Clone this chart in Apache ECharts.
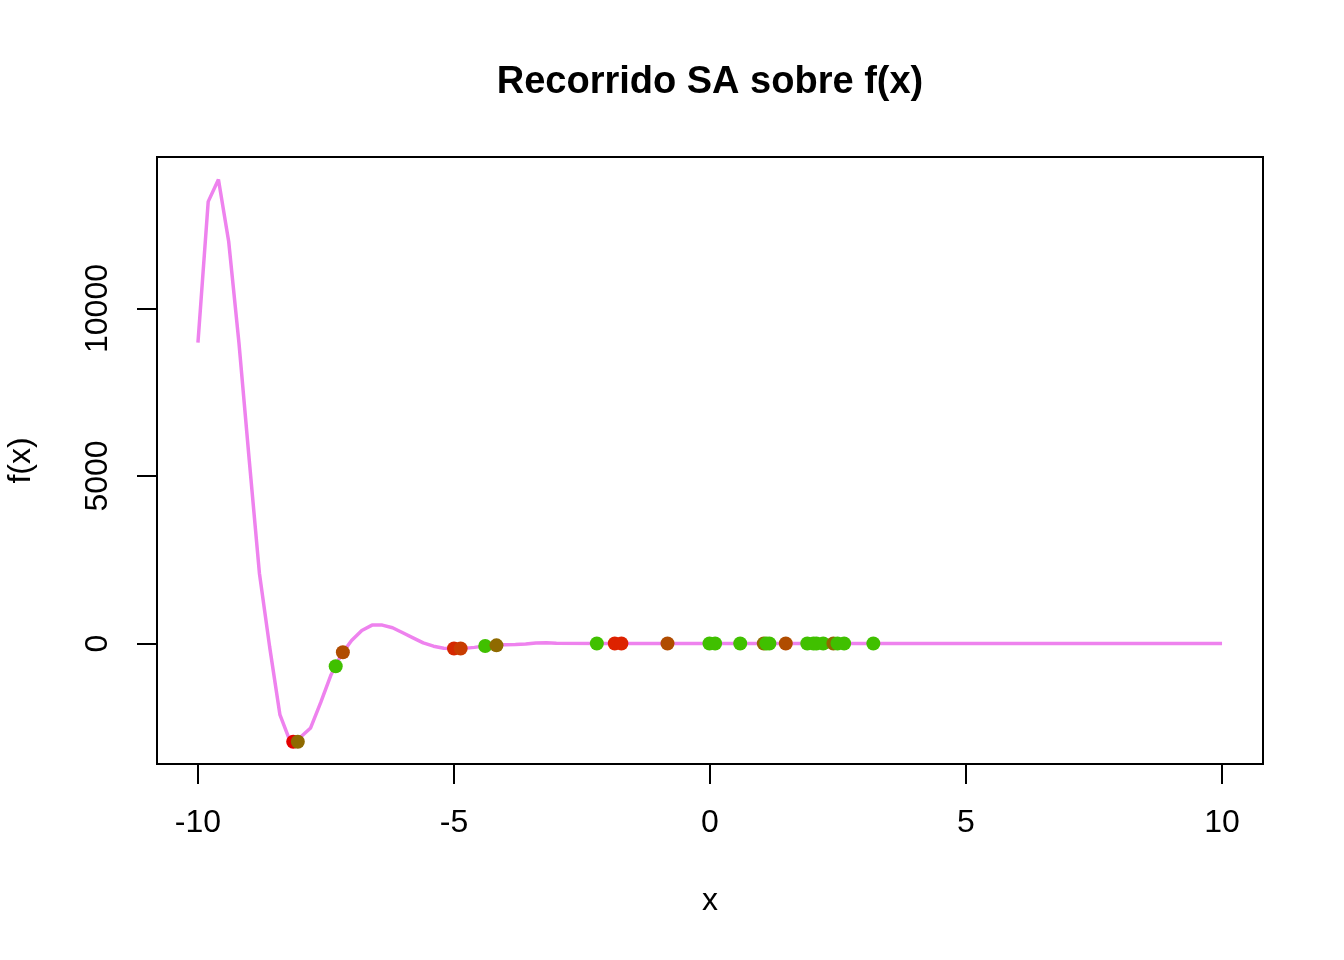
<!DOCTYPE html>
<html>
<head>
<meta charset="utf-8">
<script src="https://cdn.jsdelivr.net/npm/echarts@6/dist/echarts.min.js"></script>
<style>
html,body{margin:0;padding:0;background:#fff;}
#chart{width:1344px;height:960px;}
</style>
</head>
<body>
<div id="chart"></div>
<script>
// ---- data ----
const titleText = "Recorrido SA sobre f(x)";
const xName = "x";
const yName = "f(x)";
const xTicks = [-10, -5, 0, 5, 10];
const yTicks = [0, 5000, 10000];

// sampled curve f(x)
const curveX = [-10, -9.8, -9.6, -9.4, -9.2, -9.0, -8.8, -8.6, -8.4, -8.2, -8.0, -7.8, -7.6, -7.4, -7.2, -7.0,
  -6.8, -6.6, -6.4, -6.2, -6.0, -5.8, -5.6, -5.4, -5.2, -5.0, -4.8, -4.6, -4.4, -4.2, -4.0, -3.8, -3.6,
  -3.4, -3.2, -3.0, -2, -1, 0, 1, 2, 3, 4, 5, 6, 7, 8, 9, 10];
const curveY = [8980, 13190, 13850, 12000, 8980, 5500, 2100, -100, -2120, -2920, -2800, -2520, -1750, -930, -330, 90,
  390, 550, 550, 470, 320, 170, 20, -80, -140, -150, -145, -115, -70, -50, -40, -30, -15,
  15, 20, 5, 0, 0, 0, 0, 0, 0, 0, 0, 0, 0, 0, 0, 0];

// SA visited points
const pointX = [-8.14, -8.05, -7.31, -7.17, -5.00, -4.87, -4.39, -4.17, -2.21, -1.86, -1.73, -0.83,
  -0.01, 0.10, 0.59, 1.05, 1.10, 1.16, 1.48, 1.90, 2.02, 2.08, 2.21, 2.41, 2.49, 2.62, 3.19];
const pointY = [-2930, -2930, -680, -260, -150, -150, -75, -55, 0, 0, 0, 0,
  0, 0, 0, 0, 0, 0, 0, 0, 0, 0, 0, 0, 0, 0, 0];
const pointGroup = ["red", "olive", "green", "brown", "redorange", "orange", "green", "olive", "green", "red2", "red2", "brown",
  "green", "green", "green", "olive", "green", "green", "brown", "green", "green", "green", "green", "olive", "green", "green", "green"];

// ---- styling ----
const groupColor = {
  red: "#E40000", red2: "#DD2200", redorange: "#D52800", orange: "#C83C00",
  brown: "#B04C00", olive: "#8F6A00", green: "#40C000"
};
const FONT = "Liberation Sans, Arial, sans-serif";

const chart = echarts.init(document.getElementById("chart"), null, {renderer: "canvas"});
chart.setOption({
  animation: false,
  backgroundColor: "#ffffff",
  title: {
    text: titleText,
    left: 705,
    textAlign: "center",
    top: 59,
    textStyle: {fontFamily: FONT, fontSize: 38, fontWeight: "bold", color: "#000"}
  },
  grid: {
    left: 157, right: 81, top: 157, bottom: 196,
    outerBoundsMode: "none", containLabel: false,
    show: true, borderColor: "#000", borderWidth: 2, backgroundColor: "transparent"
  },
  xAxis: {
    type: "value", min: -10.8, max: 10.8,
    name: xName, nameLocation: "middle", nameGap: 121,
    nameTextStyle: {fontFamily: FONT, fontSize: 32, color: "#000"},
    axisLine: {show: false, onZero: false},
    axisTick: {show: true, customValues: xTicks, length: 20, lineStyle: {color: "#000", width: 2}},
    axisLabel: {customValues: xTicks, formatter: v => String(v), fontFamily: FONT, fontSize: 32, color: "#000", margin: 43},
    splitLine: {show: false}
  },
  yAxis: {
    type: "value", min: -3596, max: 14522,
    name: yName, nameLocation: "middle", nameGap: 120, nameRotate: 90,
    nameTextStyle: {fontFamily: FONT, fontSize: 32, color: "#000"},
    axisLine: {show: false, onZero: false},
    axisTick: {show: true, customValues: yTicks, length: 20, lineStyle: {color: "#000", width: 2}},
    axisLabel: {customValues: yTicks, formatter: v => String(v), rotate: 90, fontFamily: FONT, fontSize: 32, color: "#000", margin: 43},
    splitLine: {show: false}
  },
  series: [
    {
      type: "line",
      data: curveX.map((x, i) => [x, curveY[i]]),
      showSymbol: false,
      smooth: false,
      lineStyle: {color: "#EE82EE", width: 3.5},
      z: 2, silent: true
    },
    {
      type: "scatter",
      data: pointX.map((x, i) => ({value: [x, pointY[i]], itemStyle: {color: groupColor[pointGroup[i]], opacity: 1}})),
      symbol: "circle",
      symbolSize: 14,
      itemStyle: {opacity: 1},
      z: 3, silent: true
    }
  ]
});
</script>
</body>
</html>
